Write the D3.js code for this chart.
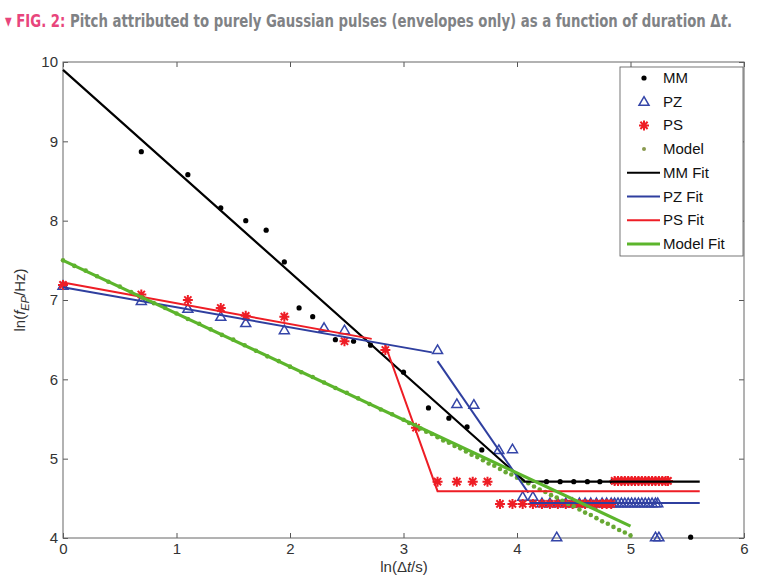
<!DOCTYPE html>
<html>
<head>
<meta charset="utf-8">
<script src="https://cdn.jsdelivr.net/npm/d3@7"></script>
<style>
  body { margin: 0; background: #fff; }
  text { font-family: "Liberation Sans", Arial, sans-serif; }
</style>
</head>
<body>
<svg id="chart" width="758" height="576"></svg>
<script>
const xTicks = [0, 1, 2, 3, 4, 5, 6];
const yTicks = [4, 5, 6, 7, 8, 9, 10];

// MM measurements
const mmX = [0.69, 1.10, 1.39, 1.61, 1.79, 1.95, 2.08, 2.20, 2.40, 2.56, 2.71, 3.00, 3.22, 3.40, 3.56, 3.69,
  4.26, 4.38, 4.50, 4.62, 4.73, 4.84, 4.94, 5.03, 5.12, 5.20, 5.28, 5.53];
const mmY = [8.87, 8.58, 8.16, 8.00, 7.88, 7.48, 6.90, 6.79, 6.50, 6.48, 6.43, 6.09, 5.64, 5.51, 5.40, 5.11,
  4.71, 4.71, 4.71, 4.71, 4.71, 4.71, 4.71, 4.71, 4.71, 4.71, 4.71, 4.01];

// PZ measurements
const pzX = [0.00, 0.69, 1.10, 1.39, 1.61, 1.95, 2.30, 2.48, 3.30, 3.47, 3.62, 3.84, 3.96, 4.05, 4.14,
  4.22, 4.29, 4.36, 4.43, 4.49, 4.55, 4.60, 4.65, 4.70, 4.75, 4.79, 4.83, 4.86, 4.89, 4.92, 4.95,
  4.98, 5.01, 5.04, 5.07, 5.10, 5.13, 5.16, 5.19, 5.22, 5.24, 4.35, 5.22, 5.25];
const pzY = [7.18, 6.99, 6.89, 6.79, 6.71, 6.62, 6.65, 6.62, 6.37, 5.69, 5.68, 5.11, 5.12, 4.52, 4.52,
  4.44, 4.44, 4.44, 4.44, 4.44, 4.44, 4.44, 4.44, 4.44, 4.44, 4.44, 4.44, 4.44, 4.44, 4.44, 4.44,
  4.44, 4.44, 4.44, 4.44, 4.44, 4.44, 4.44, 4.44, 4.44, 4.44, 4.01, 4.01, 4.01];

// PS measurements
const psX = [0.00, 0.69, 1.10, 1.39, 1.61, 1.95, 2.48, 2.84, 3.11, 3.30, 3.47, 3.61, 3.74,
  3.85, 3.96, 4.05, 4.14, 4.22, 4.29, 4.36, 4.43, 4.49, 4.55, 4.60, 4.65, 4.70, 4.75, 4.79, 4.83,
  4.86, 4.89, 4.92, 4.95, 4.98, 5.01, 5.04, 5.07, 5.10, 5.13, 5.16, 5.19, 5.22, 5.25, 5.28, 5.31, 5.33];
const psY = [7.19, 7.07, 7.00, 6.90, 6.80, 6.79, 6.48, 6.37, 5.39, 4.71, 4.71, 4.71, 4.71,
  4.43, 4.43, 4.43, 4.43, 4.43, 4.43, 4.43, 4.43, 4.43, 4.43, 4.43, 4.43, 4.43, 4.43, 4.43, 4.43,
  4.72, 4.72, 4.72, 4.72, 4.72, 4.72, 4.72, 4.72, 4.72, 4.72, 4.72, 4.72, 4.72, 4.72, 4.72, 4.72, 4.72];

// Model points
const modelX = [0.0, 0.1, 0.2, 0.3, 0.4, 0.5, 0.6, 0.7, 0.8, 0.9, 1.0, 1.1, 1.2, 1.3, 1.4, 1.5,
  1.6, 1.7, 1.8, 1.9, 2.0, 2.1, 2.2, 2.3, 2.4, 2.5, 2.6, 2.7, 2.8, 2.9, 3.0,
  3.05, 3.10, 3.15, 3.20, 3.25, 3.30, 3.35, 3.40, 3.45, 3.50, 3.55, 3.60, 3.65, 3.70, 3.75, 3.80,
  3.85, 3.90, 3.95, 4.00, 4.05, 4.10, 4.15, 4.20, 4.25, 4.30, 4.35, 4.40, 4.45, 4.50, 4.55, 4.60,
  4.65, 4.70, 4.75, 4.80, 4.85, 4.90, 4.95, 5.00];
const modelY = [7.50, 7.43, 7.37, 7.30, 7.23, 7.17, 7.10, 7.03, 6.96, 6.90, 6.83, 6.76, 6.70, 6.63, 6.56, 6.50,
  6.43, 6.36, 6.29, 6.23, 6.16, 6.09, 6.03, 5.96, 5.89, 5.83, 5.76, 5.69, 5.62, 5.56, 5.49,
  5.45, 5.42, 5.38, 5.34, 5.31, 5.27, 5.23, 5.20, 5.16, 5.13, 5.09, 5.05, 5.02, 4.98, 4.94, 4.91,
  4.87, 4.83, 4.80, 4.76, 4.72, 4.69, 4.65, 4.61, 4.58, 4.54, 4.51, 4.47, 4.43, 4.40, 4.36, 4.32,
  4.29, 4.25, 4.21, 4.18, 4.14, 4.10, 4.07, 4.03];

// fitted lines (vertices)
const mmFit = [[0, 9.90], [4.07, 4.71], [5.61, 4.71]];
const pzFit1 = [[0, 7.16], [3.25, 6.34]];
const pzFit2 = [[3.30, 6.23], [4.10, 4.57]];
const pzFit3 = [[4.11, 4.44], [5.61, 4.44]];
const psFit1 = [[0, 7.22], [2.72, 6.51]];
const psFit2 = [[2.84, 6.43], [3.30, 4.59], [5.61, 4.59]];
const modelFit = [[0, 7.50], [5.0, 4.15]];

const legendLabels = ['MM', 'PZ', 'PS', 'Model', 'MM Fit', 'PZ Fit', 'PS Fit', 'Model Fit'];

const BLUE = '#2f3f9f';
const TRI = '#3445a8';
const RED = '#ee1d25';
const GREEN = '#5cb52c';
const OLIVE = '#68a834';

const x = d3.scaleLinear().domain([0, 6]).range([63, 744]);
const y = d3.scaleLinear().domain([4, 10]).range([538, 62]);

const svg = d3.select('#chart');

// title: bold face squeezed horizontally to the original's condensed width
const title = svg.append('text')
  .attr('font-size', 18)
  .attr('font-weight', 'bold')
  .style('font-family', '"DejaVu Sans", sans-serif');
title.append('tspan').attr('fill', '#e8457c').text('\u25BE FIG. 2: ');
title.append('tspan').attr('fill', '#808285')
  .text('Pitch attributed to purely Gaussian pulses (envelopes only) as a function of duration \u0394');
title.append('tspan').attr('fill', '#808285').attr('font-style', 'italic').text('t');
title.append('tspan').attr('fill', '#808285').text('.');
const titleW = title.node().getComputedTextLength();
title.attr('transform', `translate(5,27) scale(${728 / titleW},1)`);

// axes
const g = svg.append('g');

const addAxis = (axis, transform, labels) => {
  const a = g.append('g').attr('transform', transform).call(axis);
  a.select('.domain').remove();
  a.selectAll('.tick line').attr('stroke', '#555');
  a.selectAll('.tick text')
    .attr('fill', '#333')
    .attr('font-size', 15)
    .style('font-family', '"Liberation Sans", Arial, sans-serif');
  if (!labels) a.selectAll('.tick text').remove();
};

const fmt = d3.format('d');
addAxis(d3.axisBottom(x).tickValues(xTicks).tickFormat(fmt).tickSize(-5).tickPadding(5), 'translate(0,538)', true);
addAxis(d3.axisTop(x).tickValues(xTicks).tickSize(-5), 'translate(0,62)', false);
addAxis(d3.axisLeft(y).tickValues(yTicks).tickFormat(fmt).tickSize(-5).tickPadding(5), 'translate(63,0)', true);
addAxis(d3.axisRight(y).tickValues(yTicks).tickSize(-5), 'translate(744,0)', false);

g.append('rect')
  .attr('x', x(0)).attr('y', y(10))
  .attr('width', x(6) - x(0)).attr('height', y(4) - y(10))
  .attr('fill', 'none').attr('stroke', '#666').attr('stroke-width', 1);

// axis titles
const xLabel = svg.append('text')
  .attr('x', 404).attr('y', 572)
  .attr('text-anchor', 'middle')
  .attr('font-size', 15)
  .attr('fill', '#333');
xLabel.append('tspan').text('ln(\u0394');
xLabel.append('tspan').attr('font-style', 'italic').text('t');
xLabel.append('tspan').text('/s)');

const yLabel = svg.append('text')
  .attr('transform', 'translate(25,300) rotate(-90)')
  .attr('text-anchor', 'middle')
  .attr('font-size', 15)
  .attr('fill', '#333');
yLabel.append('tspan').text('ln(');
yLabel.append('tspan').attr('font-style', 'italic').text('f');
yLabel.append('tspan').attr('font-style', 'italic').attr('font-size', 11).attr('dy', 4).text('EP');
yLabel.append('tspan').attr('dy', -4).text('/Hz)');

// marker shapes
const triPath = 'M0,-5L5,3.6L-5,3.6Z';
const starPath = s => `M0,${-s}L0,${s}M${-s},0L${s},0M${-0.72 * s},${-0.72 * s}L${0.72 * s},${0.72 * s}M${-0.72 * s},${0.72 * s}L${0.72 * s},${-0.72 * s}`;

const zip = (xs, ys) => xs.map((v, i) => [v, ys[i]]);
const plot = g.append('g');

plot.selectAll('.mm').data(zip(mmX, mmY)).enter()
  .append('circle').attr('class', 'mm')
  .attr('cx', d => x(d[0])).attr('cy', d => y(d[1]))
  .attr('r', 2.6).attr('fill', '#000');

plot.selectAll('.pz').data(zip(pzX, pzY)).enter()
  .append('path').attr('class', 'pz')
  .attr('transform', d => `translate(${x(d[0])},${y(d[1])})`)
  .attr('d', triPath)
  .attr('fill', 'none').attr('stroke', TRI).attr('stroke-width', 1.5);

plot.selectAll('.ps').data(zip(psX, psY)).enter()
  .append('path').attr('class', 'ps')
  .attr('transform', d => `translate(${x(d[0])},${y(d[1])})`)
  .attr('d', starPath(5))
  .attr('fill', 'none').attr('stroke', RED).attr('stroke-width', 2);

plot.selectAll('.model').data(zip(modelX, modelY)).enter()
  .append('circle').attr('class', 'model')
  .attr('cx', d => x(d[0])).attr('cy', d => y(d[1]))
  .attr('r', 2.3).attr('fill', OLIVE);

const line = d3.line().x(d => x(d[0])).y(d => y(d[1]));
const fits = [
  { pts: mmFit, color: '#000', w: 2.2 },
  { pts: pzFit1, color: BLUE, w: 2 },
  { pts: pzFit2, color: BLUE, w: 2 },
  { pts: pzFit3, color: BLUE, w: 2 },
  { pts: psFit1, color: RED, w: 2 },
  { pts: psFit2, color: RED, w: 2 },
  { pts: modelFit, color: GREEN, w: 3.2 }
];
plot.selectAll('.fit').data(fits).enter()
  .append('path').attr('class', 'fit')
  .attr('d', d => line(d.pts))
  .attr('fill', 'none')
  .attr('stroke', d => d.color)
  .attr('stroke-width', d => d.w);

// legend
const legend = svg.append('g');
legend.append('rect')
  .attr('x', 620).attr('y', 67)
  .attr('width', 123).attr('height', 189)
  .attr('fill', '#fff').attr('stroke', '#555').attr('stroke-width', 0.8);

const rowY = i => 78 + i * 23.7;
const item = legend.selectAll('.item').data(legendLabels).enter()
  .append('g').attr('class', 'item')
  .attr('transform', (d, i) => `translate(0,${rowY(i)})`);

item.append('text')
  .attr('x', 663).attr('y', 5)
  .attr('font-size', 15).attr('fill', '#111')
  .text(d => d);

item.filter((d, i) => i === 0).append('circle').attr('cx', 644).attr('r', 2.6).attr('fill', '#000');
item.filter((d, i) => i === 1).append('path').attr('transform', 'translate(644,0)')
  .attr('d', triPath).attr('fill', 'none').attr('stroke', TRI).attr('stroke-width', 1.5);
item.filter((d, i) => i === 2).append('path').attr('transform', 'translate(644,0)')
  .attr('d', starPath(5)).attr('fill', 'none').attr('stroke', RED).attr('stroke-width', 2);
item.filter((d, i) => i === 3).append('circle').attr('cx', 644).attr('r', 2).attr('fill', '#8a9a50');

const fitColors = ['#000', BLUE, RED, GREEN];
item.filter((d, i) => i >= 4).append('line')
  .attr('x1', 627).attr('x2', 660)
  .attr('stroke', (d, i) => fitColors[i])
  .attr('stroke-width', (d, i) => (i === 3 ? 3 : 2));
</script>
</body>
</html>
